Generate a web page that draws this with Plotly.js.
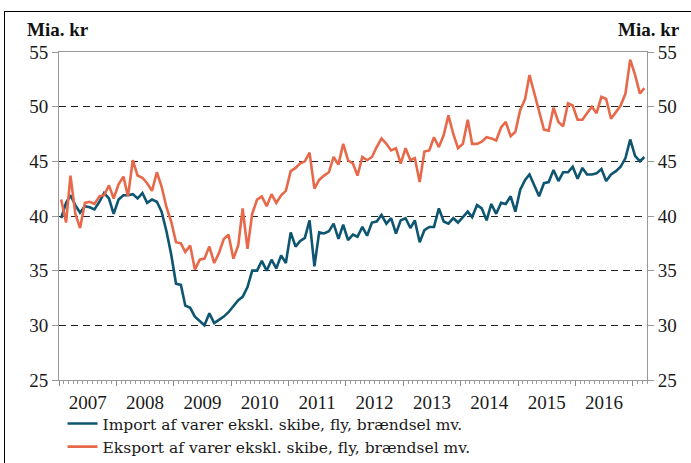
<!DOCTYPE html>
<html>
<head>
<meta charset="utf-8">
<script src="https://cdn.plot.ly/plotly-3.0.1.min.js"></script>
<style>
  html, body { margin: 0; padding: 0; background: #fff; }
  #wrap { position: relative; width: 691px; height: 463px; overflow: hidden; }
  #frame { position: absolute; left: 4px; top: 11px; width: 800px; height: 600px;
           border-left: 1.5px solid #000; border-top: 1.5px solid #000; pointer-events: none; }
  #chart { position: absolute; left: 0; top: 0; width: 691px; height: 463px; }
</style>
</head>
<body>
<div id="wrap">
  <div id="chart"></div>
  <div id="frame"></div>
</div>
<script>
// Monthly series, Jan 2007 – Mar 2017 (mia. kr)
const startYear = 2007;
const seriesNames = [
  "Import af varer ekskl. skibe, fly, brændsel mv.",
  "Eksport af varer ekskl. skibe, fly, brændsel mv."
];
const importValues = [
  39.8, 41.2, 41.9, 41.0, 40.3, 40.9, 40.8, 40.6, 41.3, 42.1, 41.6, 40.2,
  41.5, 41.9, 41.9, 42.0, 41.6, 42.1, 41.2, 41.5, 41.3, 40.4, 38.6, 36.5,
  33.8, 33.7, 31.8, 31.6, 30.8, 30.4, 30.0, 31.1, 30.2, 30.5, 30.8, 31.2,
  31.7, 32.3, 32.6, 33.5, 35.0, 35.0, 35.9, 35.0, 36.0, 35.2, 36.4, 35.7,
  38.5, 37.2, 37.7, 38.0, 39.6, 35.4, 38.5, 38.4, 38.6, 39.3, 37.9, 39.2,
  37.8, 38.3, 38.1, 39.0, 38.2, 39.4, 39.5, 40.1, 39.3, 39.8, 38.4, 39.6,
  39.8, 38.9, 39.6, 37.6, 38.7, 39.0, 39.0, 40.7, 39.5, 39.3, 39.8, 39.4,
  39.9, 40.4, 39.9, 41.0, 40.7, 39.6, 41.1, 40.2, 41.2, 41.1, 41.8, 40.4,
  42.4, 43.3, 43.8, 42.8, 41.8, 43.0, 43.1, 44.2, 43.2, 44.0, 44.0, 44.5,
  43.4, 44.4, 43.8, 43.8, 43.9, 44.3, 43.2, 43.8, 44.1, 44.5, 45.3, 47.0,
  45.5, 45.0, 45.4
];
const exportValues = [
  41.5, 39.4, 43.7, 40.2, 38.9, 41.2, 41.3, 41.1, 41.8, 41.9, 42.8, 41.6,
  42.9, 43.6, 41.8, 45.1, 43.7, 43.5, 43.0, 42.3, 44.0, 42.7, 40.8, 39.5,
  37.6, 37.5, 36.7, 37.3, 35.1, 36.0, 36.1, 37.2, 35.7, 36.6, 37.9, 38.3,
  36.1, 37.3, 40.7, 37.0, 40.2, 41.5, 41.8, 40.9, 42.0, 41.2, 41.9, 42.3,
  44.1, 44.4, 44.8, 45.0, 45.8, 42.5, 43.3, 43.7, 44.0, 45.4, 44.7, 46.6,
  45.1, 44.8, 43.7, 45.4, 45.1, 45.4, 46.3, 47.1, 46.6, 46.0, 46.2, 44.8,
  46.2, 45.1, 45.3, 43.1, 45.9, 46.0, 47.2, 46.3, 47.4, 49.2, 47.5, 46.2,
  46.6, 48.8, 46.6, 46.6, 46.8, 47.2, 47.1, 46.9, 48.1, 48.6, 47.3, 47.7,
  49.7, 50.7, 52.9, 51.2, 49.4, 47.9, 47.8, 49.9, 48.6, 48.2, 50.3, 50.1,
  48.8, 48.8, 49.4, 50.0, 49.4, 50.9, 50.7, 48.9, 49.5, 50.1, 51.2, 54.3,
  52.9, 51.2, 51.7
];
const yTickVals = [25, 30, 35, 40, 45, 50, 55];
const unitLabel = "Mia. kr";

// month categories (mid-month dates)
const months = [];
for (let i = 0; i < importValues.length; i++) {
  const y = startYear + Math.floor(i / 12);
  const m = (i % 12) + 1;
  months.push(y + "-" + String(m).padStart(2, "0") + "-15");
}

const serif = "Liberation Serif, Times New Roman, serif";
const legendSerif = "DejaVu Serif, Liberation Serif, serif";
const importColor = "#0d5570";
const exportColor = "#e8694a";

const traces = [
  { x: months, y: importValues, name: seriesNames[0], type: "scatter", mode: "lines",
    line: { color: importColor, width: 2.6 } },
  { x: months, y: exportValues, name: seriesNames[1], type: "scatter", mode: "lines",
    line: { color: exportColor, width: 2.6 } }
];

const axisCommonY = {
  range: [25, 55], tickvals: yTickVals, ticks: "outside", ticklen: 6,
  tickcolor: "#999", showline: true, linecolor: "#999", linewidth: 1,
  tickfont: { family: serif, size: 19, color: "#1a1a1a" }, zeroline: false, fixedrange: true
};

const layout = {
  width: 691, height: 463,
  margin: { l: 59, r: 44, t: 52, b: 83, autoexpand: false },
  paper_bgcolor: "rgba(0,0,0,0)", plot_bgcolor: "#fff",
  showlegend: true,
  legend: {
    x: 0.006, xanchor: "left", y: -0.082, yanchor: "top",
    font: { family: legendSerif, size: 15.5, color: "#1a1a1a" },
    bgcolor: "rgba(0,0,0,0)", tracegroupgap: 0, traceorder: "normal"
  },
  xaxis: {
    type: "date", range: ["2007-01-01", "2017-04-01"],
    tick0: "2007-01-01", dtick: "M12", tickformat: "%Y", ticklabelmode: "period",
    ticks: "outside", ticklen: 5, tickcolor: "#888",
    minor: { dtick: "M1", tick0: "2007-01-01", ticks: "outside", ticklen: 3, tickcolor: "#999", showgrid: false },
    showline: true, linecolor: "#999", linewidth: 1, mirror: true,
    showgrid: false, zeroline: false,
    tickfont: { family: serif, size: 19, color: "#1a1a1a" }
  },
  yaxis: Object.assign({}, axisCommonY, {
    side: "left",
    showgrid: true, gridcolor: "#222", gridwidth: 1, griddash: "7px,5px"
  }),
  yaxis2: Object.assign({}, axisCommonY, {
    side: "right", overlaying: "y", showgrid: false
  }),
  annotations: [
    { xref: "paper", yref: "paper", x: -0.057, y: 1.03, xanchor: "left", yanchor: "bottom",
      text: "<b>" + unitLabel + "</b>", showarrow: false,
      font: { family: serif, size: 19, color: "#111" } },
    { xref: "paper", yref: "paper", x: 1.06, y: 1.03, xanchor: "right", yanchor: "bottom",
      text: "<b>" + unitLabel + "</b>", showarrow: false,
      font: { family: serif, size: 19, color: "#111" } }
  ]
};

// empty trace on the right axis so it renders
traces.push({ x: [months[0]], y: [null], yaxis: "y2", showlegend: false, hoverinfo: "skip",
  type: "scatter", mode: "lines" });

Plotly.newPlot("chart", traces, layout, { staticPlot: true, displayModeBar: false });
</script>
</body>
</html>
